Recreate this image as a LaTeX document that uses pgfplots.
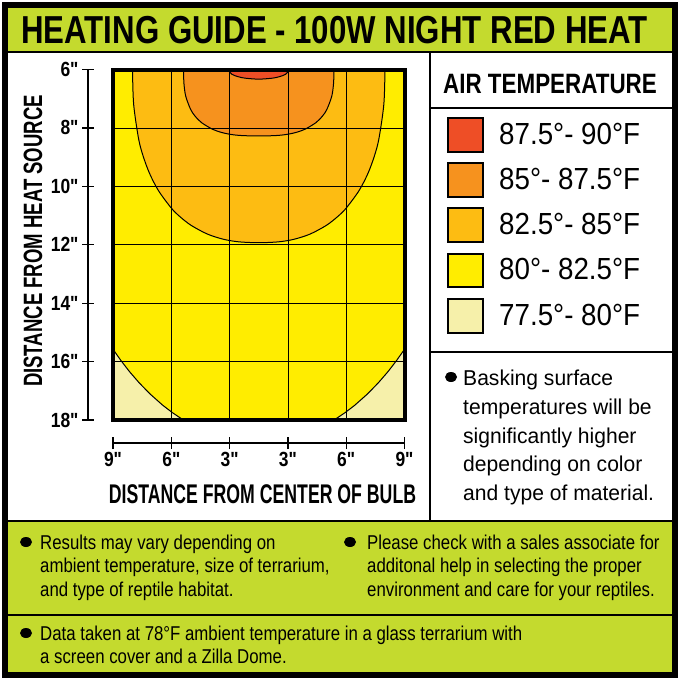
\documentclass[border=0pt]{standalone}
\usepackage{pgfplots}
\pgfplotsset{compat=1.18}
\usepackage{fontspec}
\setmainfont{Liberation Sans}
\newfontfamily\titlefont{Liberation Sans}[FakeStretch=0.80]
\newfontfamily\ylabfont{Liberation Sans}[FakeStretch=0.70]
\newfontfamily\xlabfont{Liberation Sans}[FakeStretch=0.655]
\newfontfamily\tickfont{Liberation Sans}[FakeStretch=0.85]
\newfontfamily\legfont{Liberation Sans}[FakeStretch=0.91]
\newfontfamily\headfont{Liberation Sans}[FakeStretch=0.80]
\newfontfamily\baskfont{Liberation Sans}[FakeStretch=0.98]
\newfontfamily\bodyfont{Liberation Sans}[FakeStretch=0.84]
\definecolor{lime}{RGB}{196,218,46}
\definecolor{cred}{RGB}{238,78,38}
\definecolor{corange}{RGB}{246,146,30}
\definecolor{clorange}{RGB}{253,188,18}
\definecolor{cyellow}{RGB}{255,237,0}
\definecolor{cpale}{RGB}{246,240,170}
\begin{document}
\begin{tikzpicture}
\begin{scope}[x=1pt,y=-1pt]
\fill[white] (0,0) rectangle (679,680);
\fill[lime] (5,5) rectangle (674,52);
\fill[lime] (5,521) rectangle (674,675);
\draw[line width=2pt] (5,52) -- (674,52);
\draw[line width=1.6pt] (430,52) -- (430,521);
\draw[line width=1.6pt] (430,108) -- (674,108);
\draw[line width=1.6pt] (430,352) -- (674,352);
\draw[line width=2pt] (5,521) -- (674,521);
\draw[line width=1.6pt] (5,615) -- (674,615);
\draw[line width=6pt] (5,4.5) rectangle (674.5,675);
% title
\node[anchor=base, inner sep=0pt, font=\titlefont\bfseries\fontsize{39}{40}\selectfont] at (334.5,43) {HEATING GUIDE - 100W NIGHT RED HEAT};
% axis labels
\node[rotate=90, anchor=center, inner sep=0pt, font=\ylabfont\bfseries\fontsize{26.5}{28}\selectfont] at (33,241) {DISTANCE FROM HEAT SOURCE};
\node[anchor=base, inner sep=0pt, font=\xlabfont\bfseries\fontsize{27}{28}\selectfont] at (262.5,503) {DISTANCE FROM CENTER OF BULB};
% legend
\node[anchor=base west, inner sep=0pt, font=\headfont\bfseries\fontsize{28}{30}\selectfont] at (443,93) {AIR TEMPERATURE};
\filldraw[fill=cred, draw=black, line width=2pt] (448,118) rectangle (483,152);
\filldraw[fill=corange, draw=black, line width=2pt] (448,163) rectangle (483,197);
\filldraw[fill=clorange, draw=black, line width=2pt] (448,208) rectangle (483,242);
\filldraw[fill=cyellow, draw=black, line width=2pt] (448,254) rectangle (483,287);
\filldraw[fill=cpale, draw=black, line width=2pt] (448,299) rectangle (483,333);
\begin{scope}[every node/.style={anchor=base west, inner sep=0pt, font=\legfont\fontsize{30.5}{32}\selectfont}]
\node at (499,144) {87.5°- 90°F};
\node at (499,189) {85°- 87.5°F};
\node at (499,234) {82.5°- 85°F};
\node at (499,279.5) {80°- 82.5°F};
\node at (499,325) {77.5°- 80°F};
\end{scope}
% basking note
\fill[black] (451,377) ellipse (6 and 5);
\begin{scope}[every node/.style={anchor=base west, inner sep=0pt, font=\baskfont\fontsize{21.5}{28}\selectfont}]
\node at (463,385) {Basking surface};
\node at (463,414) {temperatures will be};
\node at (463,443) {significantly higher};
\node at (463,471.5) {depending on color};
\node at (463,500) {and type of material.};
\end{scope}
% bottom notes
\fill[black] (26,542) ellipse (6 and 5);
\fill[black] (350,542) ellipse (6 and 5);
\fill[black] (26,633) ellipse (6 and 5);
\begin{scope}[every node/.style={anchor=base west, inner sep=0pt, font=\bodyfont\fontsize{20}{23}\selectfont}]
\node at (40,549) {Results may vary depending on};
\node at (40,572.5) {ambient temperature, size of terrarium,};
\node at (40,596) {and type of reptile habitat.};
\node at (367,549) {Please check with a sales associate for};
\node at (367,572.5) {additonal help in selecting the proper};
\node at (367,596) {environment and care for your reptiles.};
\node at (40,640) {Data taken at 78°F ambient temperature in a glass terrarium with};
\node at (40,663) {a screen cover and a Zilla Dome.};
\end{scope}
\end{scope}
\begin{axis}[
  at={(258.75pt,-244.75pt)}, anchor=center,
  scale only axis, width=291.5pt, height=350.5pt,
  xmin=0, xmax=5, ymin=6, ymax=18, y dir=reverse,
  axis x line*=bottom, axis y line*=left,
  axis x line shift=23pt, axis y line shift=25pt,
  axis line style={line width=1.4pt, black},
  xtick={0,1,2,3,4,5}, xticklabels={{9"},{6"},{3"},{3"},{6"},{9"}},
  ytick={6,8,10,12,14,16,18}, yticklabels={{6"},{8"},{10"},{12"},{14"},{16"},{18"}},
  tick align=center, major tick length=12pt,
  every tick/.style={black, line width=1.3pt},
  grid=major, major grid style={black, line width=0.8pt},
  axis on top, clip=false,
  xticklabel style={font=\tickfont\bfseries\fontsize{20.5}{21}\selectfont},
  yticklabel style={font=\tickfont\bfseries\fontsize{20.5}{21}\selectfont},
]
\addplot[fill=cyellow, draw=none] coordinates {(0,6) (5,6) (5,18) (0,18)} -- cycle;
\addplot[fill=clorange, draw=black, line width=1pt, smooth] coordinates {
 (0.335,6) (0.354,7.186) (0.439,8.372) (0.517,8.965) (0.627,9.558) (0.781,10.151)
 (1.000,10.744) (1.149,11.04) (1.341,11.337) (1.619,11.634) (1.893,11.811) (2.158,11.90)
 (2.5,11.93) (2.842,11.90) (3.107,11.811) (3.381,11.634) (3.659,11.337) (3.851,11.04)
 (4.0,10.744) (4.219,10.151) (4.373,9.558) (4.483,8.965) (4.561,8.372) (4.646,7.186) (4.665,6)} -- cycle;
\addplot[fill=corange, draw=black, line width=1pt, smooth] coordinates {
 (1.211,6) (1.216,6.455) (1.247,6.910) (1.331,7.364) (1.406,7.592) (1.519,7.819)
 (1.709,8.047) (1.871,8.160) (2.042,8.229) (2.220,8.263) (2.5,8.274)
 (2.780,8.263) (2.958,8.229) (3.129,8.160) (3.291,8.047) (3.481,7.819) (3.594,7.592)
 (3.669,7.364) (3.753,6.910) (3.784,6.455) (3.789,6)} -- cycle;
\addplot[fill=cred, draw=black, line width=1pt, smooth] coordinates {
 (1.97,6) (2.041,6.165) (2.149,6.2475) (2.269,6.297) (2.5,6.33)
 (2.731,6.297) (2.851,6.2475) (2.959,6.165) (3.03,6)} -- cycle;
\addplot[fill=cpale, draw=black, line width=1pt] coordinates {
 (0,15.578) (0.135,15.961) (0.283,16.344) (0.449,16.727) (0.636,17.110) (0.852,17.493)
 (1.019,17.748) (1.207,18) (0,18)} -- cycle;
\addplot[fill=cpale, draw=black, line width=1pt] coordinates {
 (5,15.578) (4.865,15.961) (4.717,16.344) (4.551,16.727) (4.364,17.110) (4.148,17.493)
 (3.981,17.748) (3.793,18) (5,18)} -- cycle;
\addplot[draw=black, line width=4pt, line join=miter] coordinates {(0,6) (5,6) (5,18) (0,18)} -- cycle;
\end{axis}
\end{tikzpicture}
\end{document}
